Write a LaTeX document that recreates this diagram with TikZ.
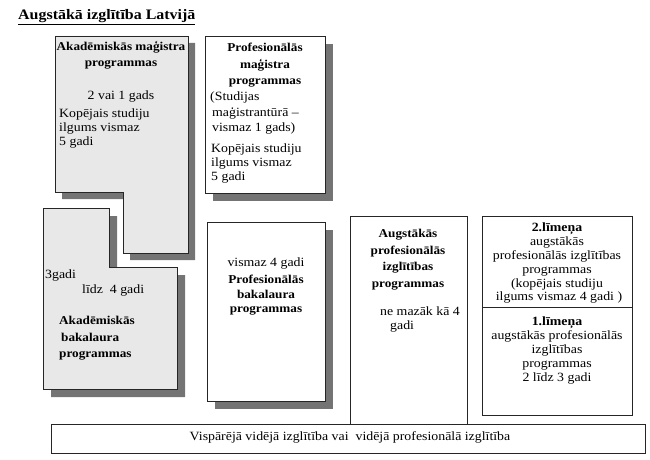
\documentclass[tikz,border=0pt]{standalone}
\usepackage{fontspec}
\setmainfont{Liberation Serif}[FakeStretch=1.1]
\usetikzlibrary{positioning}
\definecolor{acadfill}{HTML}{E8E8E8}
\definecolor{shadowfill}{HTML}{747474}

\begin{document}
\begin{tikzpicture}[x=1pt, y=-1pt,
    frame/.style={draw=black!85, line width=0.8pt},
    shadowed/.style={preaction={fill=shadowfill, draw=none, transform canvas={shift={(#1pt,-#1pt)}}}},
    shadowed/.default=7,
    txt/.style={inner sep=0pt, font=\fontsize{12.6}{13.8}\selectfont},
    head/.style={inner sep=0pt, font=\fontsize{12}{16.5}\selectfont\bfseries}]
    \useasboundingbox (0,0) rectangle (650,460);
    \node[anchor=base west, inner sep=0pt, font=\fontsize{14.5}{16}\selectfont\bfseries] (title) at (18,20) {\underline{Augstākā izglītība Latvijā}};

    % academic programmes (grey)
    \draw[frame, shadowed, fill=acadfill] (55,36) -- (188,36) -- (188,253) -- (123,253) -- (123,192) -- (55,192) -- cycle;
    \draw[frame, shadowed=8, fill=acadfill] (43,208) -- (109,208) -- (109,267) -- (177,267) -- (177,389) -- (43,389) -- cycle;
    % professional programmes
    \draw[frame, shadowed=8, fill=white] (205,36) rectangle (325,193);
    \draw[frame, shadowed=8, fill=white] (207,222) rectangle (325,401);
    \draw[frame, fill=white] (350,216) rectangle (467,424);
    \draw[frame, fill=white] (482,216) rectangle (632,307);
    \draw[frame, fill=white] (482,307) rectangle (632,415);
    \draw[frame, fill=white] (51,424) rectangle (645,453);

    \node[head, align=center, anchor=north] (amtitle) at (121,41) {Akadēmiskās maģistra\\programmas};
    \node[txt] (amyears) at (121,96) {2 vai 1 gads};
    \node[txt, align=left, anchor=north west] (amtotal) at (59,109) {Kopējais studiju\\ilgums vismaz\\5 gadi};

    \node[head, align=center, anchor=north] (pmtitle) at (265,43) {Profesionālās\\maģistra\\programmas};
    \node[txt, align=left, anchor=north west, font=\fontsize{12.6}{15.5}\selectfont] (pmstudy) at (210,92) {(Studijas\\\hspace*{2pt}maģistrantūrā –\\\hspace*{2pt}vismaz 1 gads)};
    \node[txt, align=left, anchor=north west] (pmtotal) at (211,144) {Kopējais studiju\\ilgums vismaz\\5 gadi};

    \node[txt, anchor=west] (abthree) at (45,275) {3gadi};
    \node[txt, anchor=west] (abfour) at (82,290) {līdz\ \ 4 gadi};
    \node[head, align=left, anchor=north west] (abtitle) at (59,316) {Akadēmiskās\\\hspace*{2pt}bakalaura\\programmas};

    \node[txt] (pbyears) at (266,263) {vismaz 4 gadi};
    \node[head, align=center, anchor=north, font=\fontsize{12}{14.5}\selectfont\bfseries] (pbtitle) at (266,275) {Profesionālās\\bakalaura\\programmas};

    \node[head, align=center, anchor=north] (augtitle) at (408,229) {Augstākās\\profesionālās\\izglītības\\programmas};
    \node[txt, align=left, anchor=north west] (augyears) at (380,307) {ne mazāk kā 4\\\hspace*{10pt}gadi};

    \node[txt, align=center, anchor=north] (lvltwo) at (557,223) {\textbf{2.līmeņa}\\augstākās\\profesionālās izglītības\\programmas\\(kopējais studiju\\\hspace*{4pt}ilgums vismaz 4 gadi )};
    \node[txt, align=center, anchor=north] (lvlone) at (557,317) {\textbf{1.līmeņa}\\augstākās profesionālās\\izglītības\\programmas\\2 līdz 3 gadi};

    \node[txt] (secondary) at (350,437) {Vispārējā vidējā izglītība vai\ \ vidējā profesionālā izglītība};
\end{tikzpicture}
\end{document}
